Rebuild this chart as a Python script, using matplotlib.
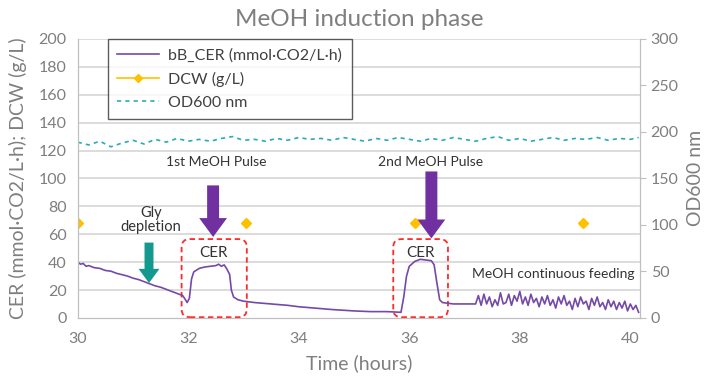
import matplotlib.pyplot as plt
from matplotlib.lines import Line2D
from matplotlib.patches import FancyBboxPatch

plt.rcParams['font.family'] = ['Lato', 'DejaVu Sans']

# CER trace (mmol CO2/L/h)
cer_t = [30.0, 30.05, 30.1, 30.15, 30.2, 30.3, 30.4, 30.5, 30.6, 30.7, 30.8, 30.9,
         31.0, 31.1, 31.2, 31.3, 31.4, 31.5, 31.6, 31.7, 31.8, 31.9, 31.95, 31.98,
         32.02, 32.06, 32.1, 32.2, 32.3, 32.4, 32.5, 32.55, 32.6, 32.65, 32.7, 32.75,
         32.78, 32.82, 32.9, 33.0, 33.2, 33.5, 33.8, 34.0, 34.3, 34.6, 35.0, 35.3,
         35.6, 35.85, 35.9, 35.95, 36.0, 36.1, 36.2, 36.3, 36.4, 36.45, 36.5, 36.55,
         36.6, 36.8, 37.0, 37.2,
         37.25, 37.3, 37.35, 37.4, 37.45, 37.5, 37.55, 37.6, 37.65, 37.7, 37.75, 37.8,
         37.85, 37.9, 37.95, 38.0, 38.05, 38.1, 38.15, 38.2, 38.25, 38.3, 38.35, 38.4,
         38.45, 38.5, 38.55, 38.6, 38.65, 38.7, 38.75, 38.8, 38.85, 38.9, 38.95, 39.0,
         39.05, 39.1, 39.15, 39.2, 39.25, 39.3, 39.35, 39.4, 39.45, 39.5, 39.55, 39.6,
         39.65, 39.7, 39.75, 39.8, 39.85, 39.9, 39.95, 40.0, 40.05, 40.1, 40.15]
cer_v = [40, 38.5, 39, 37, 37.5, 36, 35.5, 34, 33.5, 32, 31, 30,
         28.5, 27.5, 26, 24.5, 23, 22, 20.5, 19, 17.5, 16, 13, 11,
         14, 28, 33, 35.5, 36.5, 37, 37.5, 38.5, 37, 38, 35, 31,
         20, 15, 13, 12, 11, 10, 9, 8, 7, 6, 5, 4.5,
         4.5, 4, 15, 30, 37, 40.5, 42, 41.5, 41, 38, 25, 13,
         11, 10, 10, 10,
         16, 9, 17, 10, 15, 8, 13, 9, 18, 10, 11, 17,
         9, 16, 12, 19, 10, 15, 9, 17, 11, 14, 8, 15,
         10, 16, 9, 13, 7, 15, 10, 16, 9, 12, 6, 14,
         8, 15, 10, 12, 6, 14, 9, 15, 8, 11, 6, 13,
         8, 12, 6, 11, 7, 12, 5, 10, 6, 9, 4]

# DCW samples (g/L)
dcw_t = [30.0, 33.05, 36.1, 39.15]
dcw_v = [68, 68, 68, 68]

# OD600 (right axis)
od_t = [30.0, 30.2, 30.4, 30.6, 30.8, 31.0, 31.2, 31.4, 31.6, 31.8, 32.0, 32.2, 32.4,
        32.6, 32.8, 33.0, 33.2, 33.4, 33.6, 33.8, 34.0, 34.2, 34.4, 34.6, 34.8, 35.0,
        35.2, 35.4, 35.6, 35.8, 36.0, 36.2, 36.4, 36.6, 36.8, 37.0, 37.2, 37.4, 37.6,
        37.8, 38.0, 38.2, 38.4, 38.6, 38.8, 39.0, 39.2, 39.4, 39.6, 39.8, 40.0, 40.15]
od_v = [189, 186, 190, 184, 188, 191, 187, 192, 189, 193, 190, 192, 190,
        193, 195, 191, 192, 190, 193, 191, 194, 192, 193, 191, 194, 192,
        190, 193, 191, 194, 192, 190, 193, 191, 194, 192, 190, 193, 195,
        191, 193, 190, 192, 194, 191, 193, 192, 194, 191, 193, 192, 194]

grey = '#7f7f7f'
purple = '#7549a8'
gold = '#ffc000'

fig = plt.figure(figsize=(7.13, 3.78), dpi=100)
ax = fig.add_axes([0.109, 0.159, 0.789, 0.738])
ax2 = ax.twinx()

for y in range(20, 201, 20):
    ax.axhline(y, color='#d9d9d9', lw=1.3, zorder=0)

l1, = ax.plot(cer_t, cer_v, color=purple, lw=1.2, label='bB_CER (mmol·CO2/L·h)')
ax.plot(dcw_t, dcw_v, color=gold, marker='D', ms=5, lw=0)
l3, = ax2.plot(od_t, od_v, color='#2aabb5', lw=1.2, ls=(0, (2.5, 2.5)),
               label='OD600 nm')
l2 = Line2D([], [], color=gold, marker='D', ms=4, lw=1.2, label='DCW (g/L)')
ax.set_zorder(ax2.get_zorder() + 1)
ax.patch.set_visible(False)

ax.set_xlim(30, 40.18)
ax.set_ylim(0, 200)
ax2.set_ylim(0, 300)
ax.set_xticks([30, 32, 34, 36, 38, 40])
ax.set_yticks(range(0, 201, 20))
ax2.set_yticks(range(0, 301, 50))

for a in (ax, ax2):
    for s in a.spines.values():
        s.set_color('#bfbfbf')
    a.spines['top'].set_visible(False)
    a.tick_params(colors=grey, labelsize=11.5)
ax.tick_params(length=0)
ax.tick_params(axis='x', pad=10)
ax.tick_params(axis='y', pad=8)
ax2.tick_params(axis='y', length=4, color='#bfbfbf')

ax.set_xlabel('Time (hours)', color=grey, fontsize=14, labelpad=6)
ax.set_ylabel('CER (mmol·CO2/L·h); DCW (g/L)', color=grey, fontsize=14, labelpad=8)
ax2.set_ylabel('OD600 nm', color=grey, fontsize=14, labelpad=6)
ax.set_title('MeOH induction phase', color=grey, fontsize=17.5, pad=9)

leg = ax.legend(handles=[l1, l2, l3], loc='upper left', bbox_to_anchor=(0.053, 1.0),
                borderaxespad=0, fontsize=11.5, frameon=True, fancybox=False,
                edgecolor='#333333', borderpad=0.6, labelspacing=0.55,
                handlelength=2.6, handletextpad=0.6)
leg.get_frame().set_linewidth(1.0)
for t in leg.get_texts():
    t.set_color('#404040')

txt = '#333333'
ax.text(32.5, 112, '1st MeOH Pulse', ha='center', va='center', fontsize=10, color=txt)
ax.text(36.38, 112, '2nd MeOH Pulse', ha='center', va='center', fontsize=10, color=txt)
ax.text(31.33, 70, 'Gly\ndepletion', ha='center', va='center', fontsize=10.5,
        color=txt, linespacing=1.0)
ax.text(32.45, 46.6, 'CER', ha='center', va='center', fontsize=11, color=txt)
ax.text(36.2, 46.6, 'CER', ha='center', va='center', fontsize=11, color=txt)
ax.text(38.6, 31.5, 'MeOH continuous feeding', ha='center', va='center',
        fontsize=10, color=txt)

arw = 'simple,head_length=0.68,head_width=1.0,tail_width=0.43'
ax.annotate('', xy=(32.45, 58), xytext=(32.45, 95),
            arrowprops=dict(arrowstyle=arw, color='#7030a0', mutation_scale=20,
                            lw=0, shrinkA=0, shrinkB=0))
ax.annotate('', xy=(36.4, 57), xytext=(36.4, 105),
            arrowprops=dict(arrowstyle=arw, color='#7030a0', mutation_scale=20,
                            lw=0, shrinkA=0, shrinkB=0))
ax.annotate('', xy=(31.29, 25), xytext=(31.29, 54),
            arrowprops=dict(arrowstyle=arw, color='#14998f', mutation_scale=15,
                            lw=0, shrinkA=0, shrinkB=0))

for x0, x1 in [(31.88, 33.06), (35.71, 36.70)]:
    box = FancyBboxPatch((x0, 0.5), x1 - x0, 56, boxstyle='round,pad=0,rounding_size=0.15',
                         mutation_aspect=38, fill=False, ec='#ff2a2a', lw=1.3,
                         ls=(0, (3, 2)))
    ax.add_patch(box)

fig.savefig('out.png', dpi=100)
